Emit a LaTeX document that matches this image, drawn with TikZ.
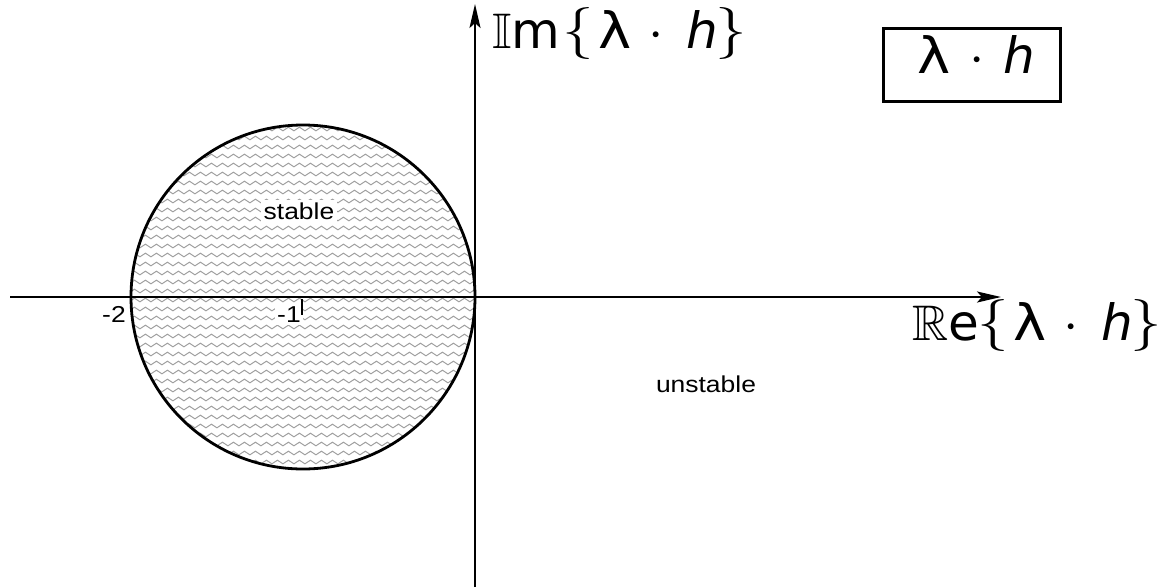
\documentclass[tikz,border=0pt]{standalone}
\usepackage{amssymb}
\usepackage{graphicx}
\usepackage{fontspec}
\setmainfont{Liberation Sans}
\newfontfamily\dvs{DejaVu Sans}
\usetikzlibrary{decorations.pathmorphing,arrows.meta}
\newcommand{\lam}{{\dvs\scalebox{1.12}[1]{λ}}}
\newcommand{\hh}{{\dvs\itshape h}}
\newcommand{\bigdot}{{\fontsize{10}{12}\selectfont\scalebox{5.5}{$\cdot$}}}
\newcommand{\lbr}{{\fontsize{10}{12}\selectfont\raisebox{1.5pt}{\scalebox{6.3}[5.2]{$\{$}}}}
\newcommand{\rbr}{{\fontsize{10}{12}\selectfont\raisebox{1.5pt}{\scalebox{6.3}[5.2]{$\}$}}}}
% #1 = blackboard letter, #2 = second letter, #3 = offset of the label start left of lambda
\newcommand{\axtext}[3]{\llap{\rlap{$\mathbb{#1}${\dvs #2}}\kern#3pt}\llap{\lbr\kern4.5pt}\rlap{\lam}\kern58pt\makebox[0pt]{\bigdot}\kern30pt\rlap{\hh}\kern29pt\rlap{\rbr}\kern40pt}
\newcommand{\stretchx}[1]{\scalebox{1.15}[1]{#1}}
\tikzset{
  axis/.style={line width=2.2pt,-{Stealth[length=24pt,width=11pt,inset=5pt]}},
  wave/.style={draw=gray!75,line width=1pt,decorate,decoration={snake,segment length=11pt,amplitude=1.8pt}},
  lbl/.style={font=\fontsize{23}{26}\selectfont,inner sep=1pt},
  axlbl/.style={font=\fontsize{50}{56}\selectfont,inner sep=0pt,anchor=base west}
}
\begin{document}
\begin{tikzpicture}[x=1pt,y=-1pt]
\useasboundingbox (0,0) rectangle (1161,587);
% stable region hatching
\begin{scope}
\clip (303,297) circle[radius=172];
\foreach \yy in {129,138,...,470}{
  \draw[wave] (120,\yy) -- (490,\yy);
}
\end{scope}
\node[lbl,fill=white,inner sep=3pt] (stable) at (299,211) {\stretchx{stable}};
\node[lbl] (unstable) at (706,384) {\stretchx{unstable}};
% circle
\draw[line width=2.8pt] (303,297) circle[radius=172];
% axes
\coordinate (xs) at (10,297);
\coordinate (xe) at (1001,297);
\coordinate (ys) at (475,587);
\coordinate (ye) at (475,4);
\draw[axis] (xs) -- (xe);
\draw[axis] (ys) -- (ye);
% ticks and tick labels
\node[lbl,fill=white,inner sep=2pt] (m1) at (289,315) {\stretchx{-1}};
\coordinate (t1a) at (302,299);
\coordinate (t1b) at (302,315);
\draw[line width=1.3pt] (t1a) -- (t1b);
\node[lbl] (m2) at (114,314) {\stretchx{-2}};
% axis labels
\node[axlbl] (im) at (598,48) {\axtext{I}{m}{106}};
\node[axlbl] (re) at (1013,340) {\axtext{R}{e}{101}};
% box
\node[draw,line width=3pt,minimum width=177pt,minimum height=73pt,inner sep=0pt] (box) at (971.5,64.5) {};
\node[axlbl] (boxtxt) at (917,73) {\rlap{\lam}\kern60pt\makebox[0pt]{\bigdot}\kern26pt\rlap{\hh}};
\end{tikzpicture}
\end{document}
